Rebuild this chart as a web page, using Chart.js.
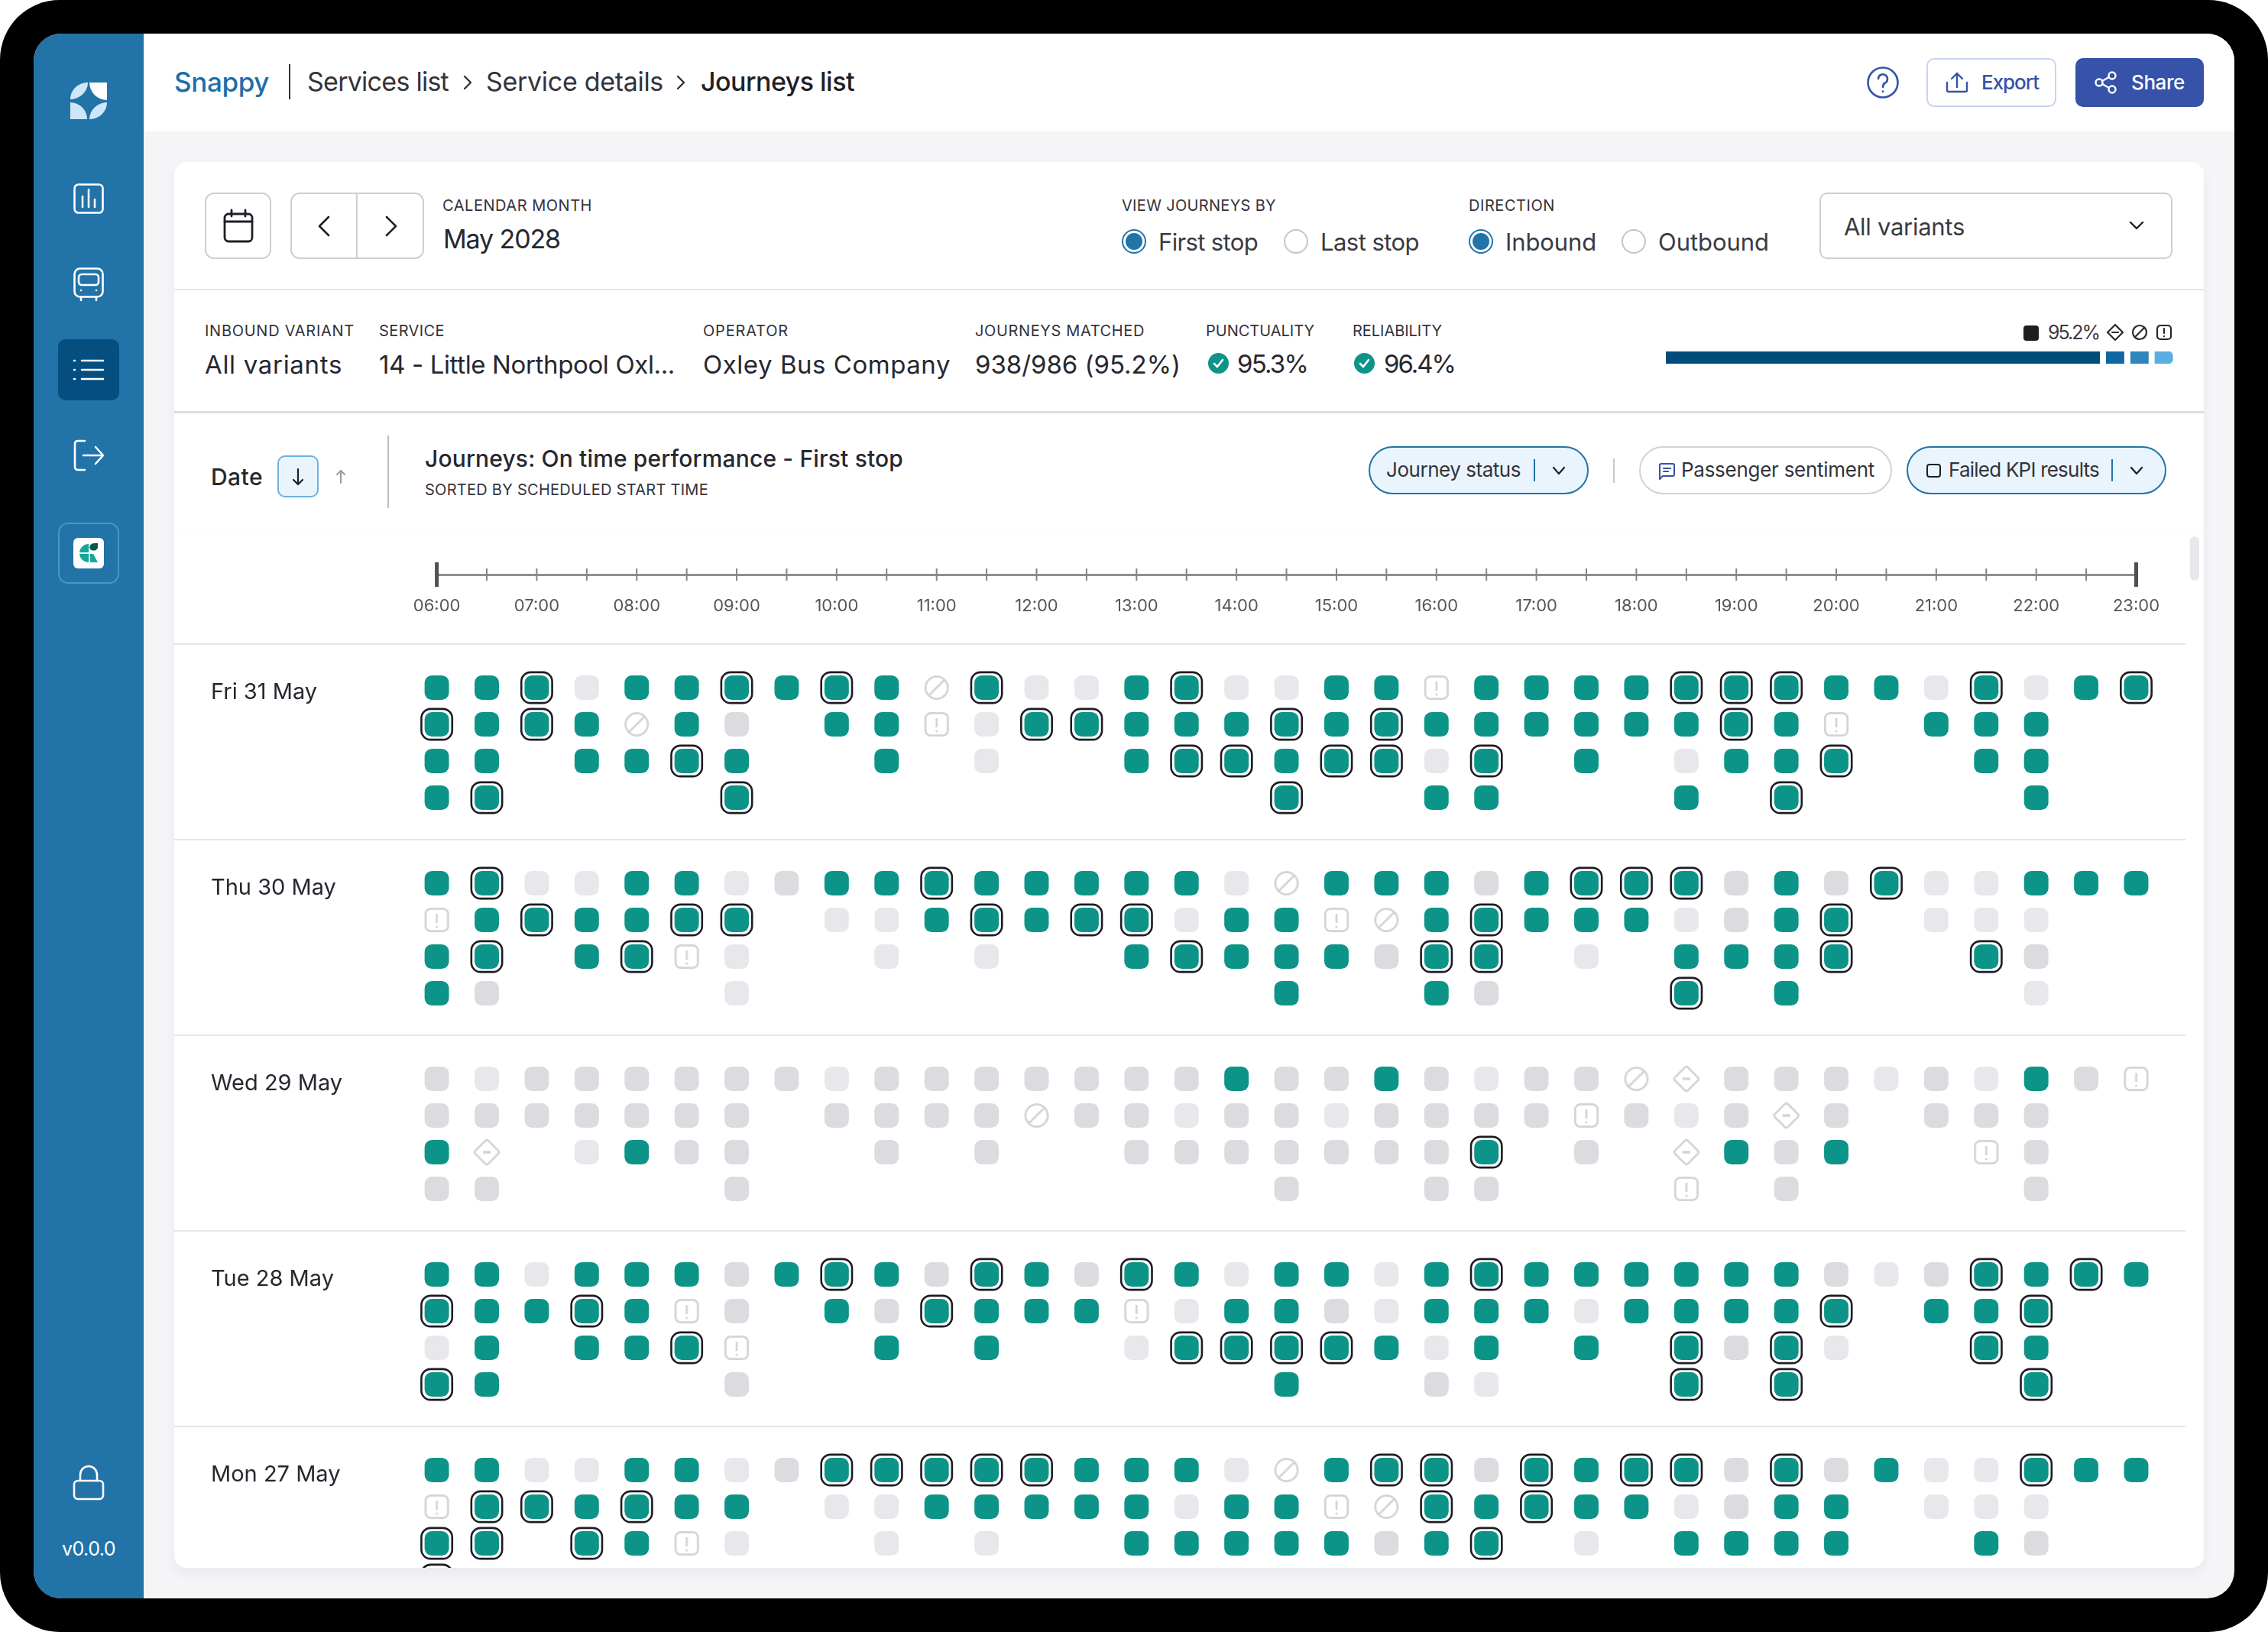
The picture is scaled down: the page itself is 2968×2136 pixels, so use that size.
<!DOCTYPE html>
<html><head><meta charset="utf-8"><title>Journeys list</title>
<script src="https://cdn.jsdelivr.net/npm/chart.js@4/dist/chart.umd.js"></script>
<style>
html,body{margin:0;padding:0;background:#fff}
body{position:relative;width:2968px;height:2136px;overflow:hidden;font-family:Inter,"Noto Sans",sans-serif;color:#27272f}
.b{position:absolute;box-sizing:border-box}
.t{position:absolute;white-space:nowrap;line-height:1;transform:translateY(-50%)}
.lab{font-size:20px;color:#33333b}
.val{font-size:33px;color:#27272f}
svg{position:absolute;overflow:visible}
.s{fill:none;stroke-linecap:round;stroke-linejoin:round}
</style></head><body>
<div class="b" style="left:0;top:0;width:2968px;height:2136px;background:#000;border-radius:78px"></div>
<div class="b" style="left:44px;top:44px;width:2880px;height:2048px;background:#F5F4F7;border-radius:36px"></div>
<div class="b" style="left:44px;top:44px;width:144px;height:2048px;background:#2273A8;border-radius:36px 0 0 36px"></div>
<div class="b" style="left:188px;top:44px;width:2736px;height:128px;background:#fff;border-radius:0 36px 0 0"></div>
<div class="b" style="left:228px;top:212px;width:2656px;height:1840px;background:#fff;border-radius:16px;box-shadow:0 8px 16px rgba(40,40,60,.05)"></div>

<!-- sidebar -->
<svg style="left:92px;top:108px" width="48" height="48" viewBox="0 0 48 48"><path d="M0 22C0 10 10 0 23 0C23 12 12 22 0 22Z" fill="#CDE6F8"/><path d="M25 0H48V23A23 23 0 0 1 25 0Z" fill="#fff"/><path d="M0 26A22 22 0 0 1 22 48H0Z" fill="#CDE6F8"/><path d="M48 26C48 38 38 48 25 48C25 36 36 26 48 26Z" fill="#CDE6F8"/></svg>
<svg style="left:96px;top:240px" width="40" height="40" viewBox="0 0 40 40"><g class="s" stroke="#fff" stroke-width="2.6"><rect x="1.5" y="1.5" width="37" height="37" rx="5"/><path d="M12 31V17M20 31V8M28 31V21"/></g></svg>
<svg style="left:96px;top:350px" width="40" height="46" viewBox="0 0 40 46"><g class="s" stroke="#fff" stroke-width="2.6"><rect x="1.5" y="1.5" width="37" height="37" rx="7"/><rect x="7" y="9" width="26" height="14" rx="4"/><path d="M10 39V43M30 39V43"/><path d="M10 30H10.1M30 30H30.1"/></g></svg>
<div class="b" style="left:76px;top:444px;width:80px;height:80px;background:#044E80;border-radius:10px"></div>
<svg style="left:96px;top:470px" width="40" height="28" viewBox="0 0 40 28"><g class="s" stroke="#fff" stroke-width="2.6"><path d="M11 2H39M11 14H39M11 26H39M1 2H2M1 14H2M1 26H2"/></g></svg>
<svg style="left:96px;top:575px" width="42" height="42" viewBox="0 0 42 42"><g class="s" stroke="#fff" stroke-width="2.6"><path d="M15 2H6Q2 2 2 6V36Q2 40 6 40H15M13 21H39M29 10L39 21L29 32"/></g></svg>
<div class="b" style="left:76px;top:684px;width:80px;height:80px;border:2.5px solid #4A95C9;border-radius:13px"></div>
<svg style="left:96px;top:704px" width="40" height="40" viewBox="0 0 40 40"><rect width="40" height="40" rx="6" fill="#fff"/><path d="M8 19A12 12 0 0 1 20 8V19ZM8 21H20V32A12 12 0 0 1 8 21ZM22 21H26L32 32H22Z" fill="#14A89B"/><path d="M20 8H32V14A6 6 0 0 1 20 14Z" fill="none"/><path d="M21 13A6 6 0 0 1 27 7H32V13A6 6 0 0 1 21 13Z" fill="#07564F"/></svg>
<svg style="left:94px;top:1918px" width="44" height="46" viewBox="0 0 44 46"><g class="s" stroke="#fff" stroke-width="2.6"><rect x="3" y="20" width="38" height="24" rx="5"/><path d="M11 20V12A11 11 0 0 1 33 12V20"/></g></svg>
<div class="t" style="left:81px;top:2027px;font-size:25px;color:#fff" data-w="70">v0.0.0</div>

<!-- header -->
<div class="t" style="left:228px;top:107px;font-size:35px;font-weight:500;color:#1D6FA9" data-w="124">Snappy</div>
<div class="b" style="left:378px;top:84px;width:2px;height:46px;background:#33333b"></div>
<div class="t" style="left:402px;top:107px;font-size:34px;color:#33333b" data-w="185">Services list</div>
<svg style="left:606px;top:98px" width="12" height="20"><path class="s" d="M2 2L10 10L2 18" stroke="#33333b" stroke-width="2.4"/></svg>
<div class="t" style="left:636px;top:107px;font-size:34px;color:#33333b" data-w="232">Service details</div>
<svg style="left:885px;top:98px" width="12" height="20"><path class="s" d="M2 2L10 10L2 18" stroke="#33333b" stroke-width="2.4"/></svg>
<div class="t" style="left:917px;top:107px;font-size:34px;font-weight:500;color:#1f1f27" data-w="201">Journeys list</div>
<svg style="left:2443px;top:87px" width="42" height="42" viewBox="0 0 42 42"><g class="s" stroke="#3653A8" stroke-width="2.6"><circle cx="21" cy="21" r="19.5"/><path d="M15 16A6 6 0 1 1 24 21.5Q21 23 21 27"/><path d="M21 32.5V33"/></g></svg>
<div class="b" style="left:2521px;top:76px;width:170px;height:64px;background:#fff;border:2px solid #C9D3F0;border-radius:10px"></div>
<svg style="left:2546px;top:94px" width="30" height="28" viewBox="0 0 30 28"><g class="s" stroke="#3653A8" stroke-width="2.4"><path d="M15 20V2M8 9L15 2L22 9M2 14V24Q2 26 4 26H26Q28 26 28 24V14"/></g></svg>
<div class="t" style="left:2593px;top:108px;font-size:26px;font-weight:500;color:#3653A8" data-w="75">Export</div>
<div class="b" style="left:2716px;top:76px;width:168px;height:64px;background:#3652A9;border-radius:10px"></div>
<svg style="left:2741px;top:93px" width="30" height="30" viewBox="0 0 30 30"><g class="s" stroke="#fff" stroke-width="2.4"><circle cx="6" cy="15" r="4.5"/><circle cx="23" cy="6" r="4.5"/><circle cx="23" cy="24" r="4.5"/><path d="M10 13L19 8M10 17L19 22"/></g></svg>
<div class="t" style="left:2789px;top:108px;font-size:26px;font-weight:500;color:#fff" data-w="70">Share</div>

<!-- controls row -->
<div class="b" style="left:268px;top:252px;width:87px;height:87px;border:2px solid #CFCFD2;border-radius:12px"></div>
<svg style="left:292px;top:274px" width="40" height="44" viewBox="0 0 40 44"><g class="s" stroke="#1f1f27" stroke-width="2.8"><rect x="2" y="6" width="36" height="36" rx="5"/><path d="M2 16H38M11 1V9M29 1V9"/></g></svg>
<div class="b" style="left:380px;top:252px;width:175px;height:87px;border:2px solid #CFCFD2;border-radius:12px"></div>
<div class="b" style="left:466px;top:253px;width:2px;height:85px;background:#CFCFD2"></div>
<svg style="left:416px;top:282px" width="16" height="28"><path class="s" d="M14 2L2 14L14 26" stroke="#1f1f27" stroke-width="2.6"/></svg>
<svg style="left:504px;top:282px" width="16" height="28"><path class="s" d="M2 2L14 14L2 26" stroke="#1f1f27" stroke-width="2.6"/></svg>
<div class="t lab" style="left:579px;top:269px" data-w="196">CALENDAR MONTH</div>
<div class="t" style="left:580px;top:313px;font-size:34px;font-weight:400" data-w="153">May 2028</div>

<div class="t lab" style="left:1468px;top:269px" data-w="202">VIEW JOURNEYS BY</div>
<div class="b" style="left:1468px;top:300px;width:32px;height:32px;border-radius:50%;border:2px solid #2273A8"></div>
<div class="b" style="left:1473px;top:305px;width:22px;height:22px;border-radius:50%;background:#2273A8"></div>
<div class="t" style="left:1516px;top:316px;font-size:31px;color:#3a3a42" data-w="130">First stop</div>
<div class="b" style="left:1680px;top:300px;width:32px;height:32px;border-radius:50%;border:2px solid #C4C4C8"></div>
<div class="t" style="left:1728px;top:316px;font-size:31px;color:#3a3a42" data-w="129">Last stop</div>
<div class="t lab" style="left:1922px;top:269px" data-w="113">DIRECTION</div>
<div class="b" style="left:1922px;top:300px;width:32px;height:32px;border-radius:50%;border:2px solid #2273A8"></div>
<div class="b" style="left:1927px;top:305px;width:22px;height:22px;border-radius:50%;background:#2273A8"></div>
<div class="t" style="left:1970px;top:316px;font-size:31px;color:#3a3a42" data-w="119">Inbound</div>
<div class="b" style="left:2122px;top:300px;width:32px;height:32px;border-radius:50%;border:2px solid #C4C4C8"></div>
<div class="t" style="left:2170px;top:316px;font-size:31px;color:#3a3a42" data-w="145">Outbound</div>
<div class="b" style="left:2381px;top:252px;width:462px;height:87px;border:2px solid #CFCFD2;border-radius:10px"></div>
<div class="t" style="left:2413px;top:296px;font-size:31px;color:#3a3a42" data-w="158">All variants</div>
<svg style="left:2786px;top:289px" width="20" height="12"><path class="s" d="M2 2L10 10L18 2" stroke="#1f1f27" stroke-width="2.4"/></svg>
<div class="b" style="left:228px;top:378px;width:2656px;height:2px;background:#E8E8EA"></div>

<!-- summary row -->
<div class="t lab" style="left:268px;top:433px" data-w="196">INBOUND VARIANT</div>
<div class="t val" style="left:268px;top:477px" data-w="180">All variants</div>
<div class="t lab" style="left:496px;top:433px" data-w="86">SERVICE</div>
<div class="t val" style="left:496px;top:477px" data-w="387">14 - Little Northpool Oxl...</div>
<div class="t lab" style="left:920px;top:433px" data-w="112">OPERATOR</div>
<div class="t val" style="left:920px;top:477px" data-w="324">Oxley Bus Company</div>
<div class="t lab" style="left:1276px;top:433px" data-w="222">JOURNEYS MATCHED</div>
<div class="t val" style="left:1276px;top:477px" data-w="269">938/986 (95.2%)</div>
<div class="t lab" style="left:1578px;top:433px" data-w="142">PUNCTUALITY</div>
<svg style="left:1581px;top:462px" width="27" height="27" viewBox="0 0 27 27"><circle cx="13.5" cy="13.5" r="13.5" fill="#0D9488"/><path class="s" d="M8 14L12 18L19 9" stroke="#fff" stroke-width="2.6"/></svg>
<div class="t val" style="left:1619px;top:476px" data-w="92">95.3%</div>
<div class="t lab" style="left:1770px;top:433px" data-w="117">RELIABILITY</div>
<svg style="left:1772px;top:462px" width="27" height="27" viewBox="0 0 27 27"><circle cx="13.5" cy="13.5" r="13.5" fill="#0D9488"/><path class="s" d="M8 14L12 18L19 9" stroke="#fff" stroke-width="2.6"/></svg>
<div class="t val" style="left:1811px;top:476px" data-w="93">96.4%</div>
<div class="b" style="left:2648px;top:426px;width:20px;height:20px;background:#1E1D24;border-radius:4px"></div>
<div class="t" style="left:2680px;top:435px;font-size:25px;color:#3a3a42" data-w="67">95.2%</div>
<svg style="left:2757px;top:424px" width="22" height="22" viewBox="0 0 22 22"><g class="s" stroke="#27272f" stroke-width="2.2"><path d="M11 1L21 11L11 21L1 11Z"/><path d="M7 11H15"/></g></svg>
<svg style="left:2790px;top:425px" width="20" height="20" viewBox="0 0 20 20"><g class="s" stroke="#27272f" stroke-width="2.2"><circle cx="10" cy="10" r="9"/><path d="M4 16L16 4"/></g></svg>
<svg style="left:2822px;top:425px" width="20" height="20" viewBox="0 0 20 20"><g class="s" stroke="#27272f" stroke-width="2.2"><rect x="1" y="1" width="18" height="18" rx="4"/><path d="M10 5V11M10 15V15.2"/></g></svg>
<div class="b" style="left:2180px;top:460px;width:664px;height:16px"><canvas id="stack" width="664" height="16" style="display:block"></canvas></div>
<div class="b" style="left:228px;top:538px;width:2656px;height:3px;background:#DDDDE0"></div>

<!-- sort row -->
<div class="t" style="left:276px;top:624px;font-size:30px;font-weight:500" data-w="68">Date</div>
<div class="b" style="left:363px;top:596px;width:54px;height:55px;background:#EAF4FC;border:2px solid #6DB1E0;border-radius:10px"></div>
<svg style="left:382px;top:612px" width="16" height="24"><path class="s" d="M8 2V22M2 16L8 22L14 16" stroke="#1f1f27" stroke-width="2.2"/></svg>
<svg style="left:438px;top:614px" width="16" height="20"><path class="s" d="M8 18V2M3 7L8 2L13 7" stroke="#9a9aa0" stroke-width="2"/></svg>
<div class="b" style="left:507px;top:570px;width:2px;height:95px;background:#BDBDC2"></div>
<div class="t" style="left:556px;top:600px;font-size:30px;font-weight:500;color:#27272f" data-w="626">Journeys: On time performance - First stop</div>
<div class="t lab" style="left:556px;top:641px" data-w="371">SORTED BY SCHEDULED START TIME</div>

<div class="b" style="left:1791px;top:584px;width:288px;height:63px;background:#EAF4FC;border:2.5px solid #2273A8;border-radius:32px"></div>
<div class="t" style="left:1814px;top:615px;font-size:26px;color:#33333b" data-w="176">Journey status</div>
<div class="b" style="left:2007px;top:601px;width:2px;height:29px;background:#2273A8"></div>
<svg style="left:2031px;top:610px" width="18" height="12"><path class="s" d="M2 2L9 10L16 2" stroke="#1f1f27" stroke-width="2.2"/></svg>
<div class="b" style="left:2111px;top:600px;width:2px;height:32px;background:#C8C8CC"></div>
<div class="b" style="left:2145px;top:584px;width:331px;height:63px;background:#fff;border:2.5px solid #D2D2D6;border-radius:32px"></div>
<svg style="left:2170px;top:606px" width="22" height="22" viewBox="0 0 22 22"><g class="s" stroke="#3653A8" stroke-width="2"><path d="M2 3Q2 1 4 1H19Q21 1 21 3V15Q21 17 19 17H6L2 21Z"/><path d="M7 7H16M7 11H13"/></g></svg>
<div class="t" style="left:2200px;top:615px;font-size:26px;color:#33333b" data-w="253">Passenger sentiment</div>
<div class="b" style="left:2495px;top:584px;width:340px;height:63px;background:#EAF4FC;border:2.5px solid #2273A8;border-radius:32px"></div>
<div class="b" style="left:2521px;top:607px;width:19px;height:18px;border:2.4px solid #1f1f27;border-radius:4px"></div>
<div class="t" style="left:2550px;top:615px;font-size:26px;color:#33333b" data-w="197">Failed KPI results</div>
<div class="b" style="left:2763px;top:601px;width:2px;height:29px;background:#2273A8"></div>
<svg style="left:2787px;top:610px" width="18" height="12"><path class="s" d="M2 2L9 10L16 2" stroke="#1f1f27" stroke-width="2.2"/></svg>

<!-- journey chart -->
<div class="b" style="left:228px;top:694px;width:2632px;height:1358px;overflow:hidden;border-radius:0 0 0 16px">
<canvas id="journeys" width="2632" height="1358" style="display:block"></canvas></div>
<div class="b" style="left:228px;top:693px;width:2656px;height:1px;box-shadow:0 3px 8px rgba(40,40,60,.07)"></div>
<div class="b" style="left:2866px;top:702px;width:12px;height:58px;background:#E8E8EC;border-radius:6px"></div>

<script>
// t on time, h on time with failed KPI, l / g unmatched shades, x cancelled, d diverted, w warning, . no journey
const hourLabels = ['06:00','07:00','08:00','09:00','10:00','11:00','12:00','13:00','14:00','15:00','16:00','17:00','18:00','19:00','20:00','21:00','22:00','23:00'];
const dayLabels = ['Fri 31 May','Thu 30 May','Wed 29 May','Tue 28 May','Mon 27 May'];
const fri31 = [
  'tthltththtxhllt'+'hlltt'+'wtttt'+'hhhtt'+'lhlth',
  'hthtxtg.ttwlhht'+'tthth'+'ttttt'+'thtw.'+'ttt..',
  'tt.ttht..t.l..t'+'hhthh'+'lh.t.'+'ltth.'+'.tt..',
  'th....h........'+'..h..'+'tt...'+'t.h..'+'..t..'
];
const thu30 = [
  'thllttlgtthtttt'+'tlxtt'+'tgthh'+'hgtgh'+'llttt',
  'wthtthh.llththh'+'lttwx'+'thttt'+'lgth.'+'lll..',
  'th.thwl..l.l..t'+'htttg'+'hh.l.'+'ttth.'+'.hg..',
  'tg....l........'+'..t..'+'tg...'+'h.t..'+'..l..'
];
const wed29 = [
  'glgggggglgggggg'+'gtggt'+'glggx'+'dgggl'+'gltgw',
  'ggggggg.ggggxgg'+'lgglg'+'gggwg'+'lgdg.'+'ggg..',
  'td.ltgg..g.g..g'+'ggggg'+'gh.g.'+'dtgt.'+'.wg..',
  'gg....g........'+'..g..'+'gg...'+'w.g..'+'..g..'
];
const tue28 = [
  'ttltttgthtghtgh'+'tlttl'+'thttt'+'tttgl'+'ghtht',
  'htthtwg.tghtttw'+'lttgl'+'tttlt'+'ttth.'+'tth..',
  'lt.tthw..t.t..l'+'hhhht'+'lt.t.'+'hghl.'+'.ht..',
  'ht....g........'+'..t..'+'gl...'+'h.h..'+'..h..'
];
const mon27 = [
  'ttllttlghhhhhtt'+'tlxth'+'hghth'+'hghgt'+'llhtt',
  'whhthtt.llttttt'+'lttwx'+'hthtt'+'lgtt.'+'lll..',
  'hh.htwl..l.l..t'+'ttttg'+'th.l.'+'tttt.'+'.tg..',
  'h..............'+'.....'+'.....'+'.....'+'.....'
];
const days = [fri31, thu30, wed29, tue28, mon27];
const stackShares = [86.7, 4.8, 4.8, 3.6];
const stackColors = ['#004C7B','#0F66A0','#2F85BD','#5CAEE2'];

function pointsFor(codes){
  const out = [];
  days.forEach((rows,d)=>rows.forEach((row,s)=>[...row].forEach((c,col)=>{
    if(codes.includes(c)) out.push({x:6+col/2, y:d*16/3+s});
  })));
  return out;
}
function icon(draw){
  const c=document.createElement('canvas'); c.width=36; c.height=36;
  const g=c.getContext('2d'); g.strokeStyle='#D4D3D7'; g.fillStyle='#D4D3D7'; g.lineWidth=2.8; g.lineCap='butt'; g.lineJoin='round';
  g.translate(18,18); draw(g); return c;
}
const cancelIcon = icon(g=>{g.beginPath();g.arc(0,0,14.6,0,7);g.stroke();g.beginPath();g.moveTo(-10.3,10.3);g.lineTo(10.3,-10.3);g.stroke();});
const warnIcon = icon(g=>{g.beginPath();g.roundRect(-14.7,-14.7,29.4,29.4,7);g.stroke();g.beginPath();g.moveTo(0,-8);g.lineTo(0,4);g.stroke();g.beginPath();g.arc(0,9,1.6,0,7);g.fill();});
const divertIcon = icon(g=>{g.beginPath();g.moveTo(-2,-15);g.quadraticCurveTo(0,-17,2,-15);g.lineTo(15,-2);g.quadraticCurveTo(17,0,15,2);g.lineTo(2,15);g.quadraticCurveTo(0,17,-2,15);g.lineTo(-15,2);g.quadraticCurveTo(-17,0,-15,-2);g.closePath();g.stroke();g.lineWidth=3.6;g.beginPath();g.moveTo(-5,0);g.lineTo(5,0);g.stroke();});

const markRadius = 18.6;
function marks(codes,color){return {data:pointsFor(codes),pointStyle:'rectRounded',pointRadius:markRadius,pointBorderWidth:0,pointBackgroundColor:color,showLine:false,clip:false};}
function iconMarks(codes,img){return {data:pointsFor(codes),pointStyle:img,pointRadius:18,showLine:false,clip:false};}

const tickMarks = {
  id:'tickMarks',
  beforeDatasetsDraw(chart){
    const {ctx,scales:{x,y}} = chart;
    const axisY = y.getPixelForValue(x.options.position.y);
    ctx.save();
    x.ticks.forEach(t=>{
      const px=x.getPixelForValue(t.value), end=(t.value===x.min||t.value===x.max);
      ctx.fillStyle=end?'#4F4F55':'#85858B';
      const w=end?5:2, h=end?32:16;
      ctx.fillRect(px-w/2,axisY-h/2,w,h);
    });
    ctx.fillStyle='#E6E6E8';
    days.forEach((_,d)=>{ctx.fillRect(0,y.getPixelForValue(d*16/3-1.1875)-1,chart.width,2);});
    ctx.restore();
  }
};

new Chart(document.getElementById('journeys'),{
  type:'scatter',
  plugins:[tickMarks],
  data:{datasets:[
    marks('l','#E8E7EB'),
    marks('g','#DCDBDF'),
    marks('th','#0D9488'),
    iconMarks('x',cancelIcon),
    iconMarks('d',divertIcon),
    iconMarks('w',warnIcon),
    {data:pointsFor('h'),pointStyle:'rectRounded',pointRadius:23.5,pointBorderWidth:2.6,pointBorderColor:'#1C1C23',pointBackgroundColor:'rgba(0,0,0,0)',showLine:false,clip:false}
  ]},
  options:{
    responsive:false,maintainAspectRatio:false,animation:false,devicePixelRatio:1,events:[],
    layout:{padding:{left:48,right:64.5,top:0,bottom:0},autoPadding:false},
    plugins:{legend:{display:false},tooltip:{enabled:false}},
    scales:{
      x:{type:'linear',min:6,max:23,position:{y:-3.0833},
        grid:{display:true,drawOnChartArea:false,drawTicks:false},
        border:{display:true,color:'#8F8E94',width:3},
        ticks:{stepSize:.5,autoSkip:false,maxRotation:0,minRotation:0,padding:28,color:'#55555C',font:{family:'Inter',size:22},
          callback:v=>Number.isInteger(v)?hourLabels[v-6]:''}},
      y:{type:'linear',reverse:true,min:-4.2917,max:24,position:'left',
        afterFit:s=>{s.width=295.6;s.paddingTop=0;s.paddingBottom=0;},
        afterBuildTicks:s=>{s.ticks=dayLabels.map((_,d)=>({value:d*16/3}));},
        grid:{display:false},border:{display:false},
        ticks:{autoSkip:false,crossAlign:'far',padding:0,labelOffset:6,color:'#27272f',font:{family:'Inter',size:29},
          callback:(v,i)=>dayLabels[i]}}
    }
  }
});
new Chart(document.getElementById('stack'),{
  type:'bar',
  data:{labels:['share'],datasets:stackShares.map((v,i)=>({data:[v],backgroundColor:stackColors[i],borderColor:'#fff',borderWidth:{right:i<3?8:0},borderSkipped:false,borderRadius:i===3?{topRight:6,bottomRight:6}:0,barPercentage:1,categoryPercentage:1}))},
  options:{indexAxis:'y',responsive:false,maintainAspectRatio:false,animation:false,devicePixelRatio:1,events:[],
    layout:{padding:0,autoPadding:false},plugins:{legend:{display:false},tooltip:{enabled:false}},
    scales:{x:{display:false,stacked:true,min:0,max:100},y:{display:false,stacked:true}}}
});
document.querySelectorAll('[data-w]').forEach(el=>{
  const w=el.getBoundingClientRect().width, n=el.textContent.length, target=+el.dataset.w;
  el.style.letterSpacing=((target-w)/n).toFixed(3)+'px';
});
</script>
</body></html>
